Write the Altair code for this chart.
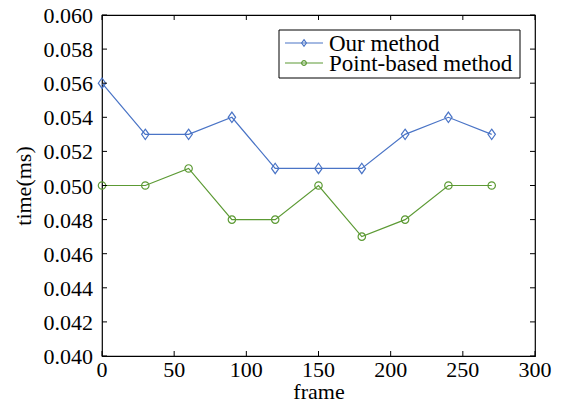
import altair as alt
import pandas as pd

frames = [0, 30, 60, 90, 120, 150, 180, 210, 240, 270]
our_method = [0.056, 0.053, 0.053, 0.054, 0.051, 0.051, 0.051, 0.053, 0.054, 0.053]
point_based = [0.050, 0.050, 0.051, 0.048, 0.048, 0.050, 0.047, 0.048, 0.050, 0.050]
series_names = ["Our method", "Point-based method"]
series_colors = ["#4A74C6", "#5C9A34"]
series_shapes = ["M0,-1.4L1,0L0,1.4L-1,0Z", "circle"]
x_ticks = [0, 50, 100, 150, 200, 250, 300]
y_ticks = [0.040, 0.042, 0.044, 0.046, 0.048, 0.050, 0.052, 0.054, 0.056, 0.058, 0.060]

W, H = 433, 341
FONT = "Liberation Serif"
FS = 22
LFS = 23

df = pd.DataFrame({
    "frame": frames * 2,
    "time": our_method + point_based,
    "series": [series_names[0]] * len(frames) + [series_names[1]] * len(frames),
})

xscale = alt.Scale(domain=[0, 300], nice=False)
yscale = alt.Scale(domain=[0.040, 0.060], nice=False, zero=False)
cscale = alt.Scale(domain=series_names, range=series_colors)
sscale = alt.Scale(domain=series_names, range=series_shapes)

xaxis = alt.Axis(values=x_ticks, tickSize=0, domain=False, grid=False, labels=False,
                 title="frame", titleFont=FONT, titleFontSize=FS, titleFontWeight="normal",
                 titleColor="black", titleY=42, titleBaseline="alphabetic")
yaxis = alt.Axis(values=y_ticks, tickSize=0, domain=False, grid=False, labels=False,
                 title="time(ms)", titleFont=FONT, titleFontSize=FS, titleFontWeight="normal",
                 titleColor="black", titleX=-79, titleBaseline="middle")

base = alt.Chart(df)
lines = base.mark_line(strokeWidth=1.2).encode(
    x=alt.X("frame:Q", scale=xscale, axis=xaxis),
    y=alt.Y("time:Q", scale=yscale, axis=yaxis),
    color=alt.Color("series:N", scale=cscale, legend=None),
    detail="series:N",
)
points = base.mark_point(filled=False, size=55, strokeWidth=1.2, opacity=1).encode(
    x=alt.X("frame:Q", scale=xscale, axis=xaxis),
    y=alt.Y("time:Q", scale=yscale, axis=yaxis),
    color=alt.Color("series:N", scale=cscale, legend=None),
    shape=alt.Shape("series:N", scale=sscale, legend=None),
)

xt = pd.DataFrame({"v": x_ticks})
yt = pd.DataFrame({"v": y_ticks})
tick_len = 5
xt_bottom = alt.Chart(xt).mark_rule(color="black", strokeWidth=1).encode(
    x=alt.X("v:Q", scale=xscale, axis=xaxis), y=alt.value(H), y2=alt.value(H - tick_len))
xt_top = alt.Chart(xt).mark_rule(color="black", strokeWidth=1).encode(
    x=alt.X("v:Q", scale=xscale, axis=xaxis), y=alt.value(0), y2=alt.value(tick_len))
yt_left = alt.Chart(yt).mark_rule(color="black", strokeWidth=1).encode(
    y=alt.Y("v:Q", scale=yscale, axis=yaxis), x=alt.value(0), x2=alt.value(tick_len))
yt_right = alt.Chart(yt).mark_rule(color="black", strokeWidth=1).encode(
    y=alt.Y("v:Q", scale=yscale, axis=yaxis), x=alt.value(W), x2=alt.value(W - tick_len))

x_labels = alt.Chart(xt).mark_text(align="center", baseline="top", font=FONT, fontSize=FS,
                                   color="black").encode(
    x=alt.X("v:Q", scale=xscale, axis=xaxis), y=alt.value(H + 4),
    text=alt.Text("v:Q", format="d"))
y_labels = alt.Chart(yt).mark_text(align="right", baseline="middle", font=FONT, fontSize=FS,
                                   color="black", dy=1).encode(
    y=alt.Y("v:Q", scale=yscale, axis=yaxis), x=alt.value(-9),
    text=alt.Text("v:Q", format=".3f"))

one = alt.Data(values=[{}])
leg_box = alt.Chart(one).mark_rect(fill="white", stroke="black", strokeWidth=1).encode(
    x=alt.value(177), x2=alt.value(418), y=alt.value(15), y2=alt.value(63))
leg_layers = [leg_box]
for i, (name, col, shp) in enumerate(zip(series_names, series_colors, series_shapes)):
    yy = 28 + 20 * i
    leg_layers.append(alt.Chart(one).mark_rule(color=col, strokeWidth=1.2).encode(
        x=alt.value(183), x2=alt.value(221), y=alt.value(yy)))
    leg_layers.append(alt.Chart(one).mark_point(filled=False, color=col, shape=shp, size=22,
                                                 strokeWidth=1.2, opacity=1).encode(
        x=alt.value(202), y=alt.value(yy)))
    leg_layers.append(alt.Chart(one).mark_text(align="left", baseline="middle", font=FONT,
                                                fontSize=LFS, color="black").encode(
        x=alt.value(227), y=alt.value(yy + 1), text=alt.value(name)))

chart = alt.layer(lines, points, xt_bottom, xt_top, yt_left, yt_right, x_labels, y_labels,
                  *leg_layers).properties(
    width=W, height=H,
    autosize=alt.AutoSizeParams(type="none"),
    padding={"left": 94, "top": 7, "right": 20, "bottom": 50},
).configure_view(stroke="black", strokeWidth=1.2).configure_axis(
    titleFont=FONT, titleFontSize=FS, titleFontWeight="normal", titleColor="black",
)

chart.save("out.html", embed_options={"renderer": "svg", "actions": False})
